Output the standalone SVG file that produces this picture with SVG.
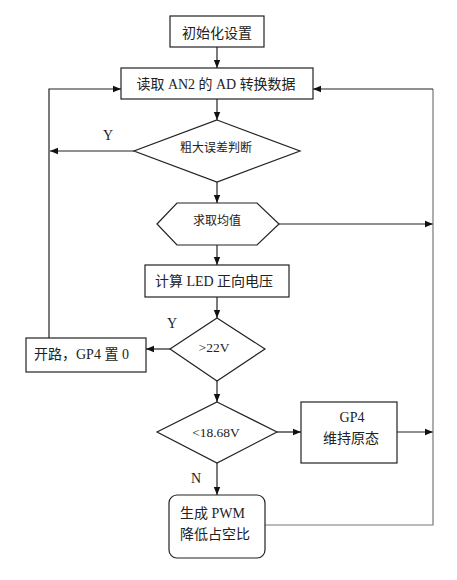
<svg xmlns="http://www.w3.org/2000/svg" width="457" height="580" viewBox="0 0 457 580">
<defs>
<marker id="arr" markerUnits="userSpaceOnUse" markerWidth="8" markerHeight="8" viewBox="0 0 8 8" refX="8" refY="4" orient="auto">
<path d="M0,0.8 L8,4 L0,7.2 Z" fill="#111"/>
</marker>
<style>
.n{fill:#fff;stroke:#222;stroke-width:1.2}
.t{font-family:"Liberation Serif","Noto Sans CJK SC",serif;font-size:14px;fill:#222}
.s{font-size:12px}
.v{font-size:13.5px}
.c{text-anchor:middle}
.l{fill:none;stroke:#222;stroke-width:1.2}
.g{stroke:#777}
.a{marker-end:url(#arr)}
</style>
</defs>
<rect width="457" height="580" fill="#fff"/>
<g id="connectors">
<line class="l a" x1="217" y1="47" x2="217" y2="68"/>
<line class="l a" x1="217" y1="99" x2="217" y2="120"/>
<line class="l a" x1="134" y1="151" x2="50" y2="151"/>
<polyline class="l a" points="49,338 49,89 121,89"/>
<line class="l a" x1="217" y1="182" x2="217" y2="203"/>
<line class="l a" x1="279" y1="224" x2="433" y2="224"/>
<line class="l a" x1="217" y1="245" x2="217" y2="265"/>
<line class="l a" x1="217" y1="297" x2="217" y2="318"/>
<line class="l a" x1="170" y1="349" x2="146" y2="349"/>
<line class="l a" x1="217" y1="381" x2="217" y2="402"/>
<line class="l a" x1="277" y1="432" x2="301" y2="432"/>
<line class="l a" x1="397" y1="432" x2="433" y2="432"/>
<line class="l a" x1="217" y1="463" x2="217" y2="495"/>
<polyline class="l g" points="265,525 433,525 433,89"/>
<line class="l a" x1="433" y1="89" x2="313" y2="89"/>
<text class="t" x="108" y="140" text-anchor="middle">Y</text>
<text class="t" x="172" y="328" text-anchor="middle">Y</text>
<text class="t" x="196" y="483" text-anchor="middle">N</text>
</g>
<g id="init">
<rect class="n" x="170" y="16" width="94" height="31"/>
<text class="t c" x="217" y="38">初始化设置</text>
</g>
<g id="read">
<rect class="n" x="121" y="68" width="192" height="31"/>
<text class="t c" x="216" y="89" textLength="159" lengthAdjust="spacingAndGlyphs">读取 AN2 的 AD 转换数据</text>
</g>
<g id="judge">
<polygon class="n" points="217,120 300,151 217,182 134,151"/>
<text class="t s c" x="216" y="152">粗大误差判断</text>
</g>
<g id="mean">
<polygon class="n" points="157,224 177,203 257,203 279,224 257,245 177,245"/>
<text class="t s c" x="217" y="225">求取均值</text>
</g>
<g id="calc">
<rect class="n" x="145" y="265" width="144" height="32"/>
<text class="t c" x="214" y="286">计算 LED 正向电压</text>
</g>
<g id="gt22">
<polygon class="n" points="217,318 265,349 217,381 170,349"/>
<text class="t v c" x="214" y="352">&gt;22V</text>
</g>
<g id="open">
<rect class="n" x="26" y="338" width="120" height="34"/>
<text class="t" x="34" y="359">开路，GP4 置 0</text>
</g>
<g id="lt18">
<polygon class="n" points="217,402 277,432 217,463 157,432"/>
<text class="t v c" x="216" y="437">&lt;18.68V</text>
</g>
<g id="keep">
<rect class="n" x="301" y="402" width="96" height="61"/>
<text class="t c" x="352" y="422">GP4</text>
<text class="t c" x="351" y="443">维持原态</text>
</g>
<g id="pwm">
<rect class="n" x="169" y="495" width="96" height="63" rx="8"/>
<text class="t" x="180" y="518">生成 PWM</text>
<text class="t" x="180" y="539">降低占空比</text>
</g>
</svg>
